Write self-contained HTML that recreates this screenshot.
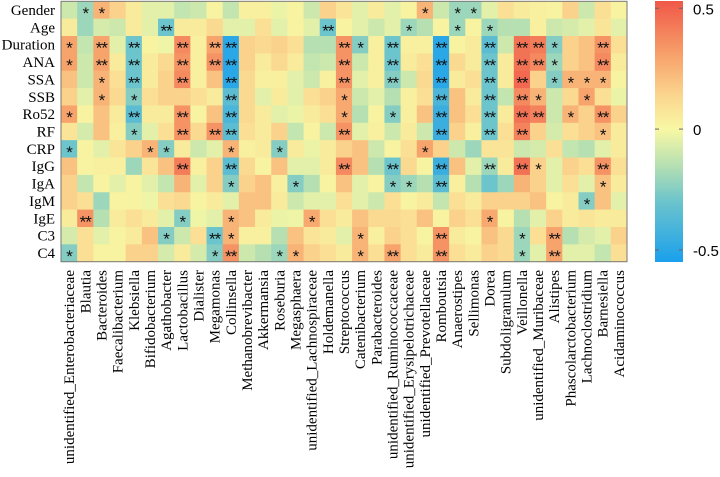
<!DOCTYPE html>
<html><head><meta charset="utf-8">
<style>
html,body{margin:0;padding:0;background:#fff;width:720px;height:477px;overflow:hidden}
svg{display:block}
</style></head>
<body>
<svg id="chart" width="720" height="477"></svg>
<script>
const rowLabels=["Gender","Age","Duration","ANA","SSA","SSB","Ro52","RF","CRP","IgG","IgA","IgM","IgE","C3","C4"];
const colLabels=["unidentified_Enterobacteriaceae","Blautia","Bacteroides","Faecalibacterium","Klebsiella","Bifidobacterium","Agathobacter","Lactobacillus","Dialister","Megamonas","Collinsella","Methanobrevibacter","Akkermansia","Roseburia","Megasphaera","unidentified_Lachnospiraceae","Holdemanella","Streptococcus","Catenibacterium","Parabacteroides","unidentified_Ruminococcaceae","unidentified_Erysipelotrichaceae","unidentified_Prevotellaceae","Romboutsia","Anaerostipes","Sellimonas","Dorea","Subdoligranulum","Veillonella","unidentified_Muribaceae","Alistipes","Phascolarctobacterium","Lachnoclostridium","Barnesiella","Acidaminococcus"];
const values=[
[-0.1,-0.2,0.25,0.15,0.05,-0.05,-0.05,-0.12,-0.1,0.02,-0.12,0.03,0.03,-0.03,0.02,-0.1,0.15,0.08,-0.05,0.05,-0.05,0.02,0.25,-0.1,-0.2,-0.2,-0.05,0.1,0.05,0.03,0.02,0.15,-0.1,0.1,0.02],
[0.05,-0.2,-0.08,-0.1,0.05,-0.05,-0.3,0.05,0.05,0.12,-0.05,-0.05,0.1,-0.05,0.02,-0.05,-0.3,0.02,-0.05,-0.1,-0.05,-0.2,-0.15,0.02,-0.2,0.02,-0.2,-0.15,-0.15,0.03,-0.1,-0.08,-0.05,0.08,-0.05],
[0.3,-0.12,0.3,-0.05,-0.3,0.02,-0.02,0.38,0.03,0.3,-0.5,0.15,0.12,0.15,0.1,-0.15,-0.15,0.35,-0.25,0.03,-0.3,0.03,0.03,-0.5,0.02,0.05,-0.35,-0.1,0.45,0.42,-0.25,0.15,0.2,0.35,0.1],
[0.3,-0.1,0.3,0.05,-0.3,0.05,0.12,0.35,0.03,0.35,-0.5,0.15,0.05,0.12,0.05,-0.12,-0.1,0.35,-0.1,0.03,-0.3,0.05,0.1,-0.5,0.12,0.05,-0.3,0.05,0.45,0.38,-0.2,0.15,0.2,0.38,0.05],
[0.2,-0.1,0.25,0.1,-0.3,0.05,0.15,0.38,0.03,0.2,-0.5,0.12,0.03,0.03,-0.05,-0.1,0.03,0.35,-0.05,0.03,-0.25,-0.1,0.12,-0.5,0.05,0.1,-0.3,0.05,0.48,0.15,-0.25,0.25,0.25,0.25,0.02],
[0.15,-0.05,0.25,0.12,-0.25,0.1,0.15,0.15,0.1,0.05,-0.35,0.12,-0.05,0.05,-0.05,0.1,0.15,0.28,-0.1,-0.05,-0.15,0.03,0.1,-0.4,0.2,0.05,-0.3,-0.12,0.38,0.25,-0.1,0.12,0.3,0.1,-0.03],
[0.3,0.02,0.2,0.05,-0.35,0.05,0.05,0.35,0.02,0.2,-0.4,0.12,0.05,-0.05,-0.03,0.05,0.1,0.28,-0.15,0.02,-0.25,0.03,0.2,-0.45,0.2,0.1,-0.3,0.05,0.45,0.4,-0.1,0.25,0.15,0.35,0.15],
[0.08,-0.08,0.2,0.03,-0.25,-0.05,0.1,0.35,0.12,0.35,-0.35,0.1,0.05,0.15,-0.12,0.02,-0.1,0.35,-0.05,0.03,-0.1,0.05,-0.1,-0.45,0.15,0.03,-0.3,0.1,0.4,0.15,-0.08,0.1,0.15,0.2,0.05],
[-0.3,0.02,-0.05,0.08,0.15,0.25,-0.25,0.05,-0.1,-0.05,0.25,0.03,0.05,-0.25,0.05,-0.03,0.05,0.15,0.2,-0.1,0.02,0.1,0.3,0.15,-0.1,-0.2,0.08,0.08,-0.1,-0.08,0.1,-0.12,-0.15,-0.05,0.05],
[0.2,0.02,0.03,0.03,-0.2,0.08,0.2,0.42,0.03,0.15,-0.35,0.12,0.02,0.2,-0.05,-0.05,0.05,0.38,0.2,-0.15,-0.3,0.12,0.02,-0.45,0.2,-0.05,-0.2,0.05,0.45,0.15,-0.05,0.15,0.1,0.35,0.1],
[0.15,-0.12,0.02,-0.05,0.02,-0.05,-0.12,0.25,-0.05,0.15,-0.25,0.15,0.2,0.03,-0.25,-0.15,0.02,0.2,-0.05,0.02,-0.25,-0.2,-0.15,-0.35,0.03,-0.15,-0.3,-0.2,0.25,0.15,-0.05,0.1,-0.05,0.2,0.05],
[0.15,0.1,-0.2,0.02,0.02,-0.02,0.1,0.12,0.02,0.05,-0.05,0.2,0.2,0.05,-0.1,-0.05,-0.05,0.1,-0.05,-0.1,0.1,0.02,0.05,-0.12,0.1,0.05,0.15,0.15,0.15,0.2,0.02,0.05,-0.25,0.2,-0.05],
[0.05,0.35,-0.15,0.05,0.1,0.05,-0.05,-0.25,-0.02,-0.05,0.25,0.2,0.05,-0.03,-0.02,0.28,0.1,0.05,0.2,0.12,0.12,0.1,0.2,0.02,0.15,0.1,0.28,0.02,-0.15,-0.05,0.15,0.05,0.08,0.05,0.05],
[-0.08,0.1,-0.05,0.02,0.05,0.2,-0.25,-0.1,0.1,-0.3,0.25,0.03,0.03,-0.15,0.2,0.08,0.05,-0.05,0.25,0.03,0.15,0.1,0.02,0.35,0.05,0.02,0.2,0.12,-0.2,0.1,0.3,-0.15,-0.08,-0.05,0.15],
[-0.25,0.1,0.02,0.02,0.15,0.15,-0.08,0.05,-0.08,-0.25,0.35,-0.1,-0.15,-0.2,0.25,0.15,0.1,0.05,0.25,0.1,0.3,0.1,0.05,0.35,0.1,0.05,0.15,0.12,-0.2,-0.05,0.3,-0.05,-0.05,-0.12,0.1]
];
const stars=[
"0,1,1,0,0,0,0,0,0,0,0,0,0,0,0,0,0,0,0,0,0,0,1,0,1,1,0,0,0,0,0,0,0,0,0",
"0,0,0,0,0,0,2,0,0,0,0,0,0,0,0,0,2,0,0,0,0,1,0,0,1,0,1,0,0,0,0,0,0,0,0",
"1,0,2,0,2,0,0,2,0,2,2,0,0,0,0,0,0,2,1,0,2,0,0,2,0,0,2,0,2,2,1,0,0,2,0",
"1,0,2,0,2,0,0,2,0,2,2,0,0,0,0,0,0,2,0,0,2,0,0,2,0,0,2,0,2,2,1,0,0,2,0",
"0,0,1,0,2,0,0,2,0,0,2,0,0,0,0,0,0,2,0,0,2,0,0,2,0,0,2,0,2,0,1,1,1,1,0",
"0,0,1,0,1,0,0,0,0,0,2,0,0,0,0,0,0,1,0,0,0,0,0,2,0,0,2,0,2,1,0,0,1,0,0",
"1,0,0,0,2,0,0,2,0,0,2,0,0,0,0,0,0,1,0,0,1,0,0,2,0,0,2,0,2,2,0,1,0,2,0",
"0,0,0,0,1,0,0,2,0,2,2,0,0,0,0,0,0,2,0,0,0,0,0,2,0,0,2,0,2,0,0,0,0,1,0",
"1,0,0,0,0,1,1,0,0,0,1,0,0,1,0,0,0,0,0,0,0,0,1,0,0,0,0,0,0,0,0,0,0,0,0",
"0,0,0,0,0,0,0,2,0,0,2,0,0,0,0,0,0,2,0,0,2,0,0,2,0,0,2,0,2,1,0,0,0,2,0",
"0,0,0,0,0,0,0,0,0,0,1,0,0,0,1,0,0,0,0,0,1,1,0,2,0,0,0,0,0,0,0,0,0,1,0",
"0,0,0,0,0,0,0,0,0,0,0,0,0,0,0,0,0,0,0,0,0,0,0,0,0,0,0,0,0,0,0,0,1,0,0",
"0,2,0,0,0,0,0,1,0,0,1,0,0,0,0,1,0,0,0,0,0,0,0,0,0,0,1,0,0,0,0,0,0,0,0",
"0,0,0,0,0,0,1,0,0,2,1,0,0,0,0,0,0,0,1,0,0,0,0,2,0,0,0,0,1,0,2,0,0,0,0",
"1,0,0,0,0,0,0,0,0,1,2,0,0,1,1,0,0,0,1,0,2,0,0,2,0,0,0,0,1,0,2,0,0,0,0"
];
const cbTicks=[0.5,0,-0.5];
const vMin=-0.55, vMax=0.53;

const svg=document.getElementById('chart');
const NS='http://www.w3.org/2000/svg';
const X0=61,X1=627,Y0=1.3,Y1=261.7;
const cw=(X1-X0)/colLabels.length, ch=(Y1-Y0)/rowLabels.length;
function xPos(i){return X0+i*cw;}
function yPos(j){return Y0+j*ch;}
const stops=[[-0.55,[26,160,236]],[-0.3,[108,196,204]],[-0.15,[182,224,178]],[0,[248,248,164]],[0.15,[251,210,140]],[0.3,[247,163,108]],[0.53,[240,88,72]]];
function color(v){
  if(v<=stops[0][0])return rgb(stops[0][1]);
  for(let k=1;k<stops.length;k++){
    if(v<=stops[k][0]){const a=stops[k-1],b=stops[k];const t=(v-a[0])/(b[0]-a[0]);
      return rgb(a[1].map((c,i)=>c+(b[1][i]-c)*t));}
  }
  return rgb(stops[stops.length-1][1]);
}
function rgb(a){return 'rgb('+a.map(Math.round).join(',')+')';}
function mk(tag,attrs){const e=document.createElementNS(NS,tag);for(const k in attrs)e.setAttribute(k,attrs[k]);svg.appendChild(e);return e;}

for(let j=0;j<rowLabels.length;j++){
  const st=stars[j].split(',').map(Number);
  for(let i=0;i<colLabels.length;i++){
    const r=mk('rect',{x:xPos(i),y:yPos(j),width:cw+0.4,height:ch+0.4,fill:color(values[j][i])});
    
    
    if(st[i]>0){
      const t=mk('text',{x:xPos(i)+cw/2,y:yPos(j)+ch/2+9,'text-anchor':'middle','font-family':'Liberation Sans, sans-serif','font-size':'17','letter-spacing':'-1',fill:'#111'});
      t.textContent=st[i]===2?'**':'*';
      
      
    }
  }
  const rl=mk('text',{x:55,y:yPos(j)+ch/2+5,'text-anchor':'end','font-family':'Liberation Serif, serif','font-size':'15',fill:'#000'});
  rl.textContent=rowLabels[j];
  
  
}
const border=mk('rect',{x:X0,y:Y0,width:X1-X0,height:Y1-Y0,fill:'none',stroke:'#777','stroke-width':'1'});


for(let i=0;i<colLabels.length;i++){
  const cx=xPos(i)+cw/2+5;
  const t=mk('text',{x:0,y:0,transform:'translate('+cx+',270) rotate(-90)','text-anchor':'end','font-family':'Liberation Serif, serif','font-size':'15',fill:'#000'});
  t.textContent=colLabels[i];
  
  
}
const CBX=655,CBW=28,CBY0=1,CBY1=262;
const defs=mk('defs',{});
const lg=document.createElementNS(NS,'linearGradient');
lg.setAttribute('id','cbg');lg.setAttribute('x1','0');lg.setAttribute('y1','1');lg.setAttribute('x2','0');lg.setAttribute('y2','0');
defs.appendChild(lg);
for(const s of stops){const o=document.createElementNS(NS,'stop');o.setAttribute('offset',(s[0]-vMin)/(vMax-vMin));o.setAttribute('stop-color',rgb(s[1]));lg.appendChild(o);}
function cbY(v){return CBY1-(v-vMin)/(vMax-vMin)*(CBY1-CBY0);}
const cb=mk('rect',{x:CBX,y:CBY0,width:CBW,height:CBY1-CBY0,fill:'url(#cbg)'});


for(const v of cbTicks){
  const y=cbY(v);
  mk('line',{x1:CBX,x2:CBX+4,y1:y,y2:y,stroke:'#666'});
  mk('line',{x1:CBX+CBW-4,x2:CBX+CBW,y1:y,y2:y,stroke:'#666'});
  const t=mk('text',{x:693,y:y+6,'font-family':'Liberation Sans, sans-serif','font-size':'15',fill:'#000'});
  t.textContent=v===0?'0':String(v);
  
  
}
</script>
</body></html>
